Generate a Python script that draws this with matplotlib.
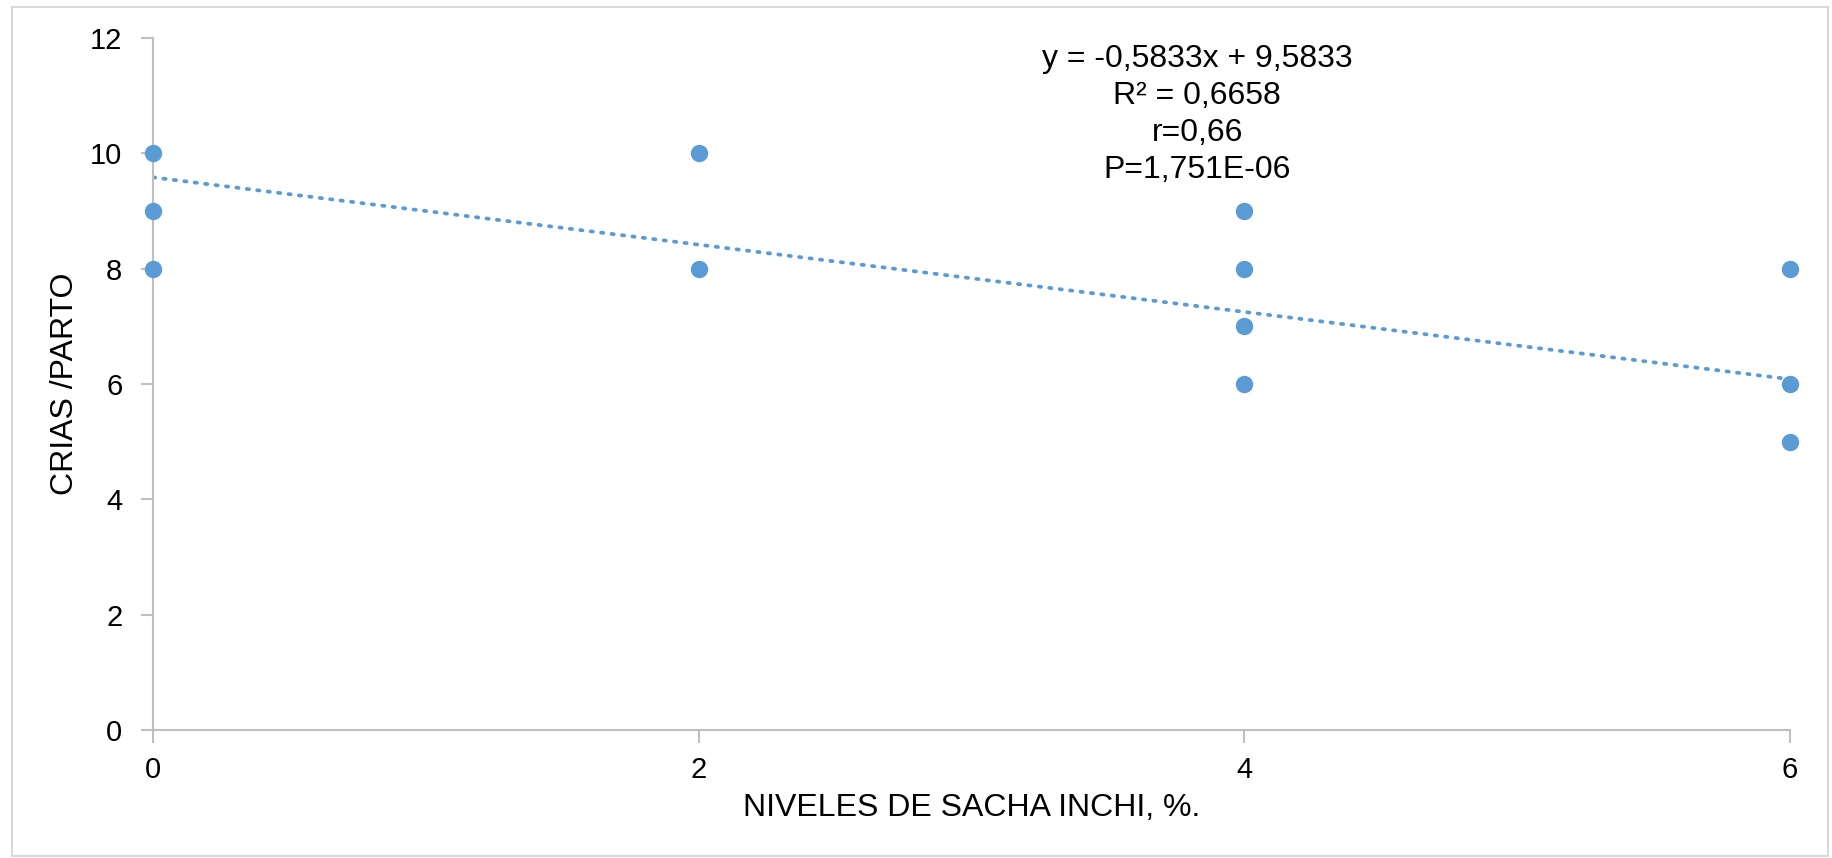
import numpy as np
import matplotlib
matplotlib.use('Agg')
import matplotlib.pyplot as plt
from matplotlib.patches import Rectangle

# Data
nivel = [0, 0, 0, 2, 2, 4, 4, 4, 4, 6, 6, 6]          # % Sacha inchi
crias = [10, 9, 8, 10, 8, 9, 8, 7, 6, 8, 6, 5]        # crias / parto

# Trend line as stated on the chart
slope = -0.5833
intercept = 9.5833
stats = ['y = -0,5833x + 9,5833', 'R² = 0,6658', 'r=0,66', 'P=1,751E-06']

xticks = [0, 2, 4, 6]
yticks = [0, 2, 4, 6, 8, 10, 12]

blue = '#5B9BD5'
grey = '#BFBFBF'

plt.rcParams['font.family'] = ['Liberation Sans', 'DejaVu Sans']

fig = plt.figure(figsize=(18.32, 8.58), dpi=100)
ax = fig.add_axes([0.0835, 0.1492, 0.977 - 0.0835, 0.9557 - 0.1492])

# Trend line
xl = np.array([min(xticks), max(xticks)])
ax.plot(xl, slope * xl + intercept, color=blue, lw=2.7,
        linestyle=(0, (0.6, 2.2)), dash_capstyle='round', zorder=2)

# Points
ax.plot(nivel, crias, 'o', color=blue, markersize=11.5, zorder=3,
        clip_on=False)

ax.set_xlim(0, 6)
ax.set_ylim(0, 12)
ax.set_xticks(xticks)
ax.set_yticks(yticks)

for s in ['top', 'right']:
    ax.spines[s].set_visible(False)
for s in ['left', 'bottom']:
    ax.spines[s].set_color(grey)
    ax.spines[s].set_linewidth(1.5)
ax.tick_params(axis='both', colors=grey, width=1.5, length=9,
               labelsize=21, labelcolor='black')
ax.tick_params(axis='x', pad=10)
ax.tick_params(axis='y', pad=13)

ax.set_xlabel('NIVELES DE SACHA INCHI, %.', fontsize=23, labelpad=6)
ax.set_ylabel('CRIAS /PARTO', fontsize=23, labelpad=7)

# Regression statistics
ax.text(0.638, 0.992, '\n'.join(stats), transform=ax.transAxes,
        ha='center', va='top', fontsize=23, linespacing=1.31)

# Chart area border
fig.patches.append(Rectangle((12 / 1832, 0.002), (1828 - 12) / 1832,
                             1 - 7 / 858 - 0.002, transform=fig.transFigure,
                             fill=False, edgecolor='#D9D9D9', lw=1.5))

fig.savefig('out.png', dpi=100)
